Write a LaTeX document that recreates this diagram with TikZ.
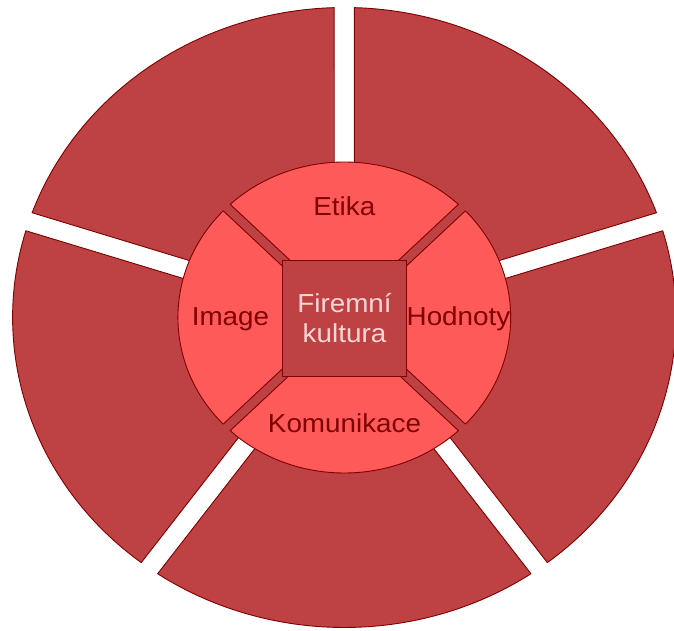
\documentclass[tikz,border=0pt]{standalone}
\usepackage{fontspec}
\setmainfont{Liberation Sans}
\usepackage{xcolor}
\usepackage{tikz}
\definecolor{segred}{RGB}{190, 65, 68}
\definecolor{petalred}{RGB}{255, 90, 90}
\definecolor{rimred}{RGB}{128, 0, 0}
\definecolor{paletext}{RGB}{255, 214, 214}

\begin{document}
\begin{tikzpicture}[
    x=1pt, y=1pt,
    ringseg/.style={fill=segred, draw=rimred, line width=0.9pt, line join=round},
    petalseg/.style={fill=petalred, draw=rimred, line width=0.9pt, line join=round},
    petaltext/.style={anchor=base, inner sep=0pt, xscale=1.07, text=rimred, font=\fontsize{26}{30}\selectfont},
    corebox/.style={rectangle, draw=rimred, fill=segred, line width=0.9pt, minimum size=116pt, inner sep=0pt, xscale=1.07, align=center, text=paletext, font=\fontsize{26}{30}\selectfont}
]
\useasboundingbox (-344.3,-313.5) rectangle (329.7,317.5);

\begin{scope}[xscale=1.07]
% Outer ring: five segments, white gaps between them
\draw[ringseg] (54:15.9) -- (19.75:310) arc[start angle=19.75, end angle=88.25, radius=310] -- cycle;
\draw[ringseg] (126:15.9) -- (91.75:310) arc[start angle=91.75, end angle=160.25, radius=310] -- cycle;
\draw[ringseg] (198:15.9) -- (163.75:310) arc[start angle=163.75, end angle=232.25, radius=310] -- cycle;
\draw[ringseg] (270:15.9) -- (235.75:310) arc[start angle=235.75, end angle=304.25, radius=310] -- cycle;
\draw[ringseg] (342:15.9) -- (307.75:310) arc[start angle=307.75, end angle=376.25, radius=310] -- cycle;

% Inner disk behind the four petals
\fill[segred] (0,0) circle[radius=155.5];

% Inner petals
\draw[petalseg] (90:6.5) -- (46.7:155.5) arc[start angle=46.7, end angle=133.3, radius=155.5] -- cycle;
\draw[petalseg] (180:6.5) -- (136.7:155.5) arc[start angle=136.7, end angle=223.3, radius=155.5] -- cycle;
\draw[petalseg] (270:6.5) -- (226.7:155.5) arc[start angle=226.7, end angle=313.3, radius=155.5] -- cycle;
\draw[petalseg] (0:6.5) -- (316.7:155.5) arc[start angle=316.7, end angle=403.3, radius=155.5] -- cycle;
\end{scope}

% Centre
\node[corebox] (core) at (0.2,-0.5) {Firemní\\kultura};

% Petal labels
\node[petaltext] (etika) at (0,101.8) {Etika};
\node[petaltext] (image) at (-113.8,-8.2) {Image};
\node[petaltext] (hodnoty) at (114.2,-8.2) {Hodnoty};
\node[petaltext] (komunikace) at (0.2,-115.2) {Komunikace};

\end{tikzpicture}
\end{document}
